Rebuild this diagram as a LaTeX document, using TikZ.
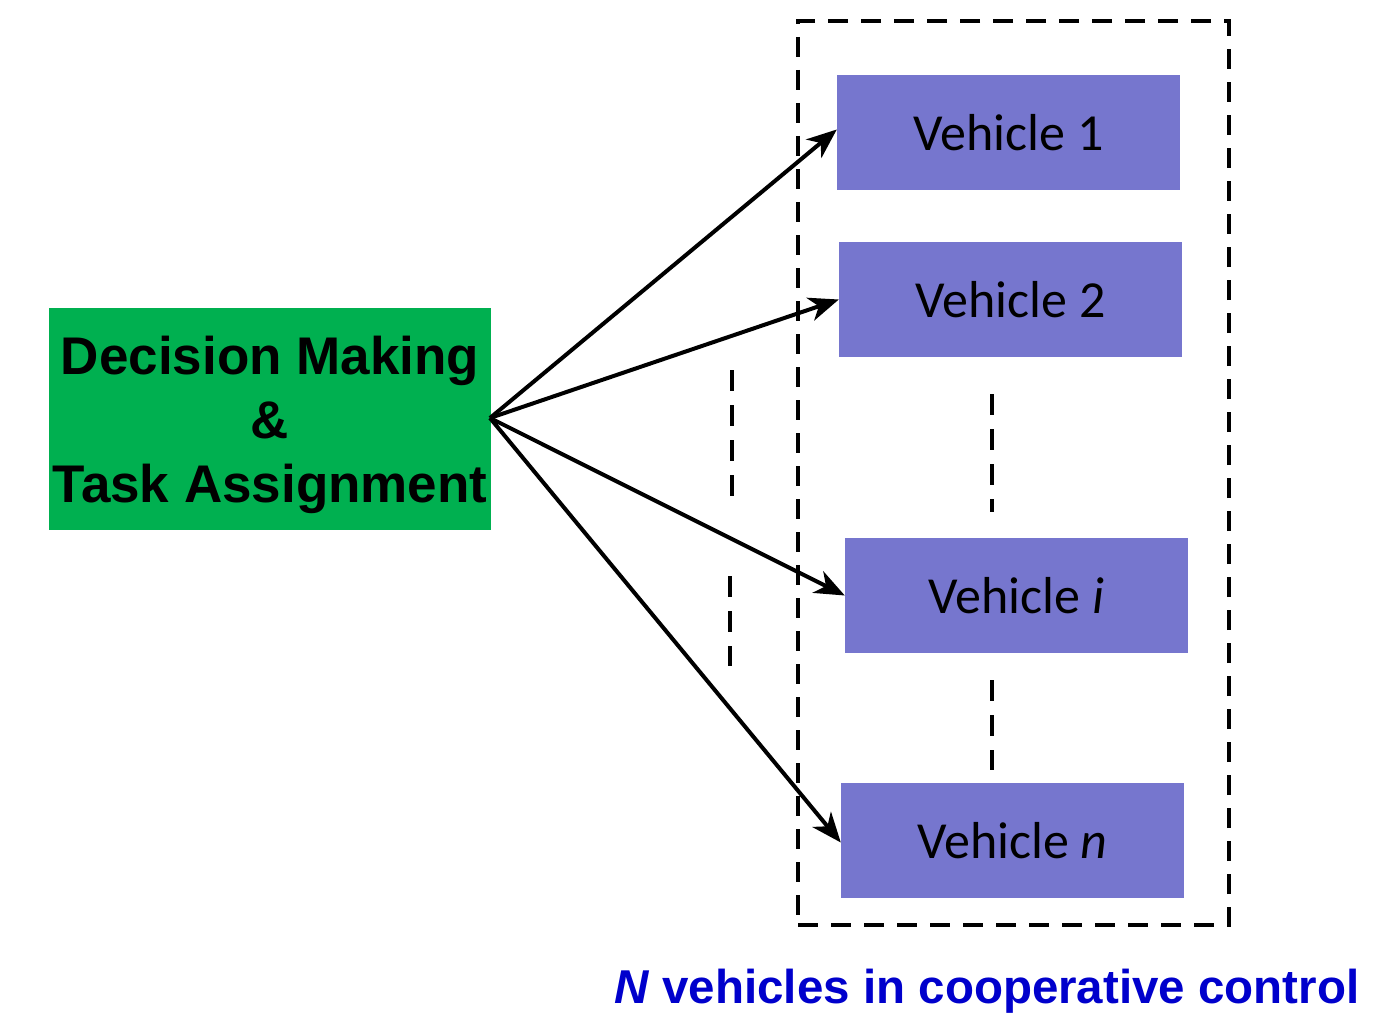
\documentclass[tikz,border=0pt]{standalone}
\usepackage{fontspec}
\setmainfont{Liberation Sans}
\newfontfamily\calfont{Carlito}
\usetikzlibrary{arrows.meta}
\definecolor{dmgreen}{RGB}{0,176,80}
\definecolor{vehblue}{RGB}{118,118,206}
\definecolor{capblue}{RGB}{0,0,204}
\begin{document}
\begin{tikzpicture}[x=1pt,y=-1pt,
  vehbox/.style={fill=vehblue, draw=none, minimum width=343pt, minimum height=115pt, inner sep=0pt,
    font=\calfont\fontsize{52}{60}\selectfont},
  conn/.style={line width=4pt, -{Stealth[length=30pt,width=24pt,inset=9pt]}},
  vdash/.style={line width=4.5pt, dash pattern=on 20pt off 13pt},
  vdots/.style={line width=4pt, dash pattern=on 21pt off 14pt}]
\useasboundingbox (0,0) rectangle (1400,1019);
\node[fill=dmgreen, minimum width=442pt, minimum height=222pt, inner sep=0pt] (dm) at (270,419) {};
\node[align=center, inner sep=0pt, font=\bfseries\fontsize{53}{64}\selectfont] (dmtext) at (270,425)
  {Decision Making\\\&\\Task Assignment};
\node[vehbox] (v1) at (1008.5,132.5) {Vehicle 1};
\node[vehbox] (v2) at (1010.5,299.5) {Vehicle 2};
\node[vehbox] (vi) at (1016.5,595.5) {Vehicle \textit{i}};
\node[vehbox] (vn) at (1012.5,840.5) {Vehicle \textit{n}};
\node[draw, vdash, minimum width=431pt, minimum height=904pt, inner sep=0pt] (grp) at (1013.5,473) {};
\coordinate (da1) at (732,370); \coordinate (da2) at (732,502);
\coordinate (db1) at (730,576); \coordinate (db2) at (730,666);
\coordinate (dc1) at (992,394); \coordinate (dc2) at (992,512);
\coordinate (dd1) at (992,680); \coordinate (dd2) at (992,770);
\draw[vdots] (da1) -- (da2);
\draw[vdots] (db1) -- (db2);
\draw[vdots] (dc1) -- (dc2);
\draw[vdots] (dd1) -- (dd2);
\coordinate (src) at (490,418);
\draw[conn] (src) -- ([yshift=3pt]v1.west);
\draw[conn] (src) -- (v2.west);
\draw[conn] (src) -- (vi.west);
\draw[conn] (src) -- ([yshift=-2pt]vn.west);
\node[anchor=base west, text=capblue, inner sep=0pt, font=\bfseries\fontsize{47.5}{56}\selectfont] (cap) at (614,1003)
  {\textit{N} vehicles in cooperative control};
\end{tikzpicture}
\end{document}
